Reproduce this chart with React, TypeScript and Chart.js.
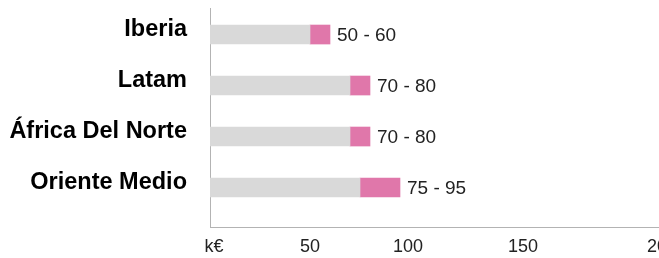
import React, { useEffect, useRef } from "react";
import { Chart, registerables } from "chart.js";

Chart.register(...registerables);

const categories = ["Iberia", "Latam", "África Del Norte", "Oriente Medio"];
const minValues = [50, 70, 70, 75];
const maxValues = [60, 80, 80, 95];
const xTickValues = [2, 50, 99, 156.5, 226];
const xTickLabels = ["k€", "50", "100", "150", "200"];

const GREY = "#d9d9d9";
const PINK = "#e077aa";
const FONT = "'Liberation Sans', Arial, Helvetica, sans-serif";

const rangeLabels = {
  id: "rangeLabels",
  afterDatasetsDraw(chart: any) {
    const ctx = chart.ctx;
    const meta = chart.getDatasetMeta(1);
    ctx.save();
    ctx.font = `19px ${FONT}`;
    ctx.fillStyle = "#222";
    ctx.textAlign = "left";
    ctx.textBaseline = "middle";
    meta.data.forEach((bar: any, i: number) => {
      const { x, y } = bar.getProps(["x", "y"], true);
      ctx.fillText(`${minValues[i]} - ${maxValues[i]}`, x + 7, y + 1);
    });
    ctx.restore();
  },
};

export default function App() {
  const ref = useRef<HTMLCanvasElement | null>(null);
  useEffect(() => {
    if (!ref.current) return;
    const chart = new Chart(ref.current, {
      type: "bar",
      data: {
        datasets: [
          {
            data: categories.map((_, i) => ({ y: i, x: [0, minValues[i]] })) as any,
            backgroundColor: GREY,
            barThickness: 19,
            grouped: false,
            borderWidth: 0,
          } as any,
          {
            data: categories.map((_, i) => ({ y: i, x: [minValues[i], maxValues[i]] })) as any,
            backgroundColor: PINK,
            barThickness: 19,
            grouped: false,
            borderWidth: 0,
          } as any,
        ],
      },
      options: {
        indexAxis: "y",
        responsive: false,
        animation: false,
        layout: { padding: { top: 8, right: 10, bottom: 0, left: 0 } },
        plugins: { legend: { display: false }, tooltip: { enabled: false } },
        scales: {
          x: {
            type: "linear",
            min: 0,
            max: 240,
            offset: false,
            grid: { display: false, drawTicks: false },
            border: { display: true, color: "#b3b3b3", width: 1 },
            afterBuildTicks: (scale: any) => {
              scale.ticks = xTickValues.map((v) => ({ value: v }));
            },
            afterFit: (scale: any) => {
              scale.height = 31;
              scale.paddingLeft = 0;
              scale.paddingRight = 0;
            },
            ticks: {
              autoSkip: false,
              maxRotation: 0,
              padding: 9,
              color: "#222",
              font: { family: FONT, size: 18 },
              callback: (v: any) => {
                const idx = xTickValues.indexOf(Number(v));
                return idx >= 0 ? xTickLabels[idx] : "";
              },
            },
          },
          y: {
            type: "linear",
            reverse: true,
            offset: false,
            min: -0.52,
            max: 3.774,
            grid: { display: false, drawTicks: false },
            border: { display: true, color: "#b3b3b3", width: 1 },
            afterBuildTicks: (scale: any) => {
              scale.ticks = categories.map((_, i) => ({ value: i }));
            },
            afterFit: (scale: any) => {
              scale.width = 210;
              scale.paddingTop = 0;
              scale.paddingBottom = 0;
            },
            ticks: {
              autoSkip: false,
              padding: 23,
              labelOffset: -5,
              color: "#000",
              font: { family: FONT, size: 23.5, weight: "bold" },
              callback: (v: any) => categories[Number(v)] ?? "",
            },
          },
        },
      } as any,
      plugins: [rangeLabels],
    });
    return () => chart.destroy();
  }, []);

  return (
    <div
      style={{
        position: "fixed",
        left: 0,
        top: 0,
        width: 659,
        height: 258,
        overflow: "hidden",
        background: "#fff",
      }}
    >
      <canvas ref={ref} width={700} height={258} style={{ display: "block" }} />
    </div>
  );
}
